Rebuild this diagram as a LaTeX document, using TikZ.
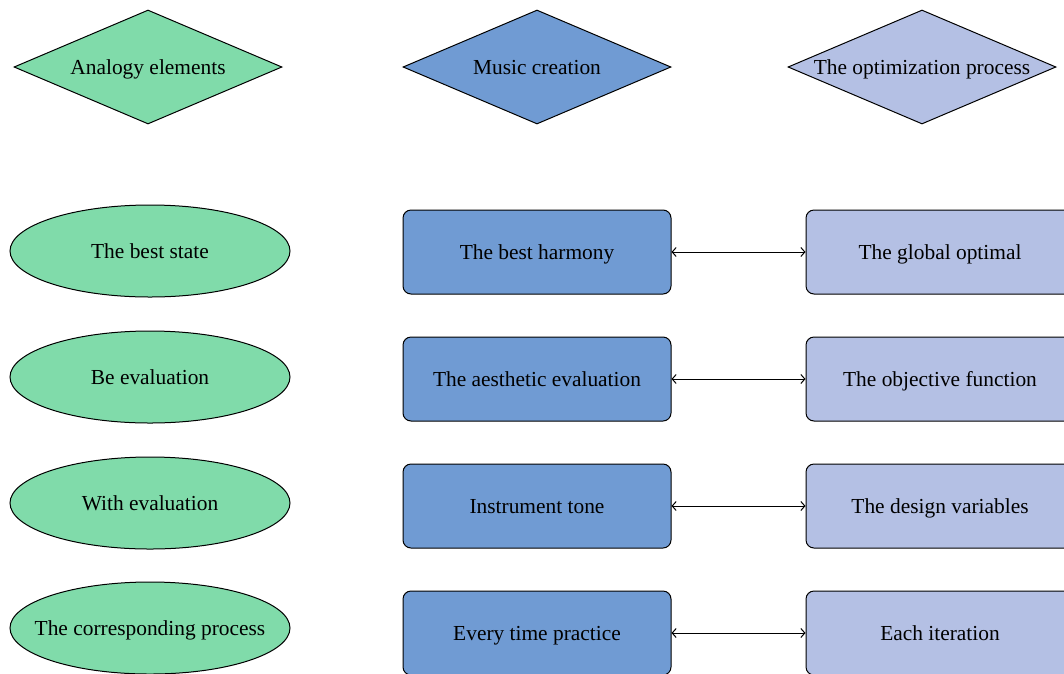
\documentclass[tikz,border=0pt]{standalone}
\usepackage{fontspec}
\setmainfont{Liberation Serif}
\usetikzlibrary{arrows.meta,shapes.geometric}
\definecolor{analog}{HTML}{80DBAA}
\definecolor{music}{HTML}{709BD3}
\definecolor{optim}{HTML}{B4C0E4}

\begin{document}
\begin{tikzpicture}[x=1pt,y=-1pt,>={Straight Barb[length=4pt,width=9pt]},
  every node/.style={font=\fontsize{21.4}{25}\selectfont},
  every label/.style={text height=17pt,text depth=3pt},
  hd/.style={diamond,draw,line width=1pt,minimum width=268pt,minimum height=114pt,
    inner sep=0pt,label=center:{#1}},
  ell/.style={ellipse,draw,line width=1pt,fill=analog,minimum width=280pt,
    minimum height=92pt,inner sep=0pt,label=center:{#1}},
  box/.style={draw,line width=1pt,rounded corners=8pt,minimum width=268pt,
    minimum height=84pt,text height=17pt,text depth=3pt}]
  \useasboundingbox (0,0) rectangle (1064,673);

  \node[hd={Analogy elements},fill=analog] (h1) at (148,67) {};
  \node[hd={Music creation},fill=music] (h2) at (537,67) {};
  \node[hd={The optimization process},fill=optim] (h3) at (922,67) {};

  \foreach \i/\ey/\ry/\a/\m/\o in {
      1/251/252/{The best state}/{The best harmony}/{The global optimal},
      2/377/379/{Be evaluation}/{The aesthetic evaluation}/{The objective function},
      3/503/506/{With evaluation}/{Instrument tone}/{The design variables},
      4/628/633/{The corresponding process}/{Every time practice}/{Each iteration}} {
    \node[ell=\a] (a\i) at (150,\ey) {};
    \node[box,fill=music] (m\i) at (537,\ry) {\m};
    \node[box,fill=optim] (o\i) at (940,\ry) {\o};
    \draw[<->,line width=1pt] (m\i.east) -- (o\i.west);
  }
\end{tikzpicture}
\end{document}
